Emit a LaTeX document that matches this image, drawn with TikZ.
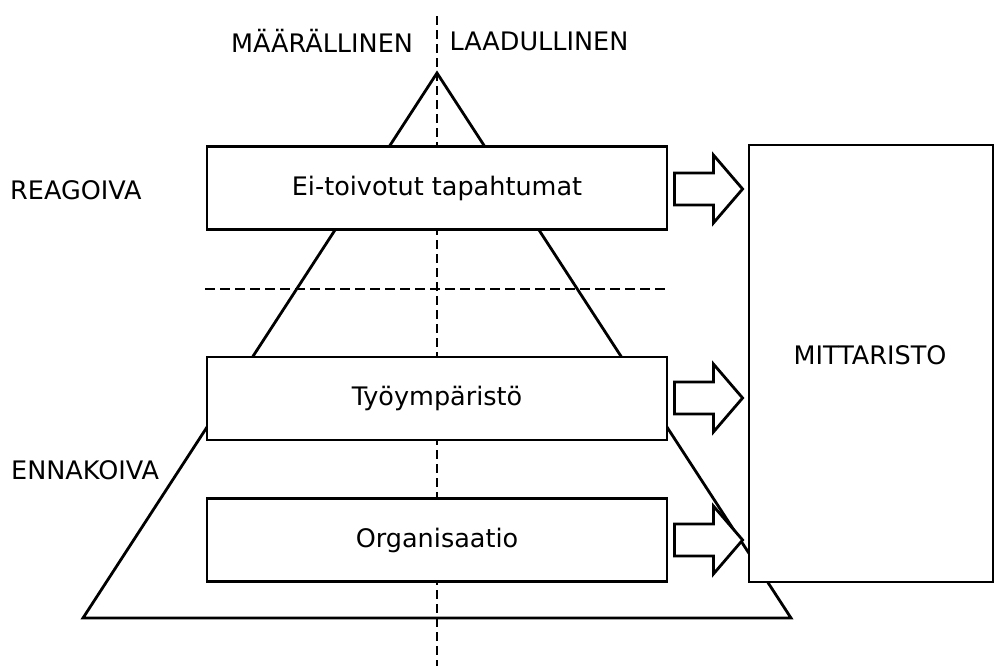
\documentclass[tikz,border=0pt]{standalone}
\usepackage{fontspec}
\setmainfont{DejaVu Sans}
\usetikzlibrary{calc}
\begin{document}
\begin{tikzpicture}[x=1pt,y=-1pt,
  lw/.style={line width=2.8pt},
  boxnode/.style={draw,lw,fill=white,minimum width=460pt,minimum height=83pt,inner sep=0pt,font=\fontsize{25.5}{30}\selectfont},
  lbl/.style={font=\fontsize{25.5}{30}\selectfont,inner sep=0pt},
  blockarrow/.style={draw,lw,fill=white,line join=miter},
  vdash/.style={lw,dash pattern=on 9pt off 5pt},
  hdash/.style={lw,dash pattern=on 10pt off 5pt}]
\useasboundingbox (0,0) rectangle (997,672);
% triangle
\coordinate (apex) at (437,73);
\coordinate (bl) at (83,618);
\coordinate (br) at (791,618);
\draw[lw,fill=white,line join=miter] (apex) -- (br) -- (bl) -- cycle;
% vertical dashed line
\coordinate (vtop) at (437,16);
\coordinate (vbot) at (437,666);
\draw[vdash] (vtop) -- (vbot);
% horizontal dashed line
\coordinate (hl) at (205,289);
\coordinate (hr) at (668,289);
\draw[hdash] (hl) -- (hr);
% boxes
\node[boxnode] (b1) at (437,188) {Ei-toivotut tapahtumat};
\node[boxnode] (b2) at (437,398.5) {Työympäristö};
\node[boxnode] (b3) at (437,540) {Organisaatio};
% big box
\node[draw,lw,fill=white,minimum width=244pt,minimum height=437pt,inner sep=0pt] (mitt) at (871,363.5) {};
\node[lbl] (mittlbl) at (870,355) {MITTARISTO};
% labels
\node[lbl] (maar) at (322,41) {MÄÄRÄLLINEN};
\node[lbl] (laad) at (539,41) {LAADULLINEN};
\node[lbl,anchor=west] (reag) at (10,190) {REAGOIVA};
\node[lbl,anchor=west] (enna) at (11,470) {ENNAKOIVA};
% block arrows
\foreach \b/\cy in {b1/189,b2/398,b3/540}{
  \draw[blockarrow] ($(\b.east|-0,\cy)+(6,-16)$) -- ++(39,0) -- ++(0,-18) -- ($(mitt.west|-0,\cy)+(-5,0)$)
    -- ($(\b.east|-0,\cy)+(45,34)$) -- ++(0,-18) -- ++(-39,0) -- cycle;
}
\end{tikzpicture}
\end{document}
